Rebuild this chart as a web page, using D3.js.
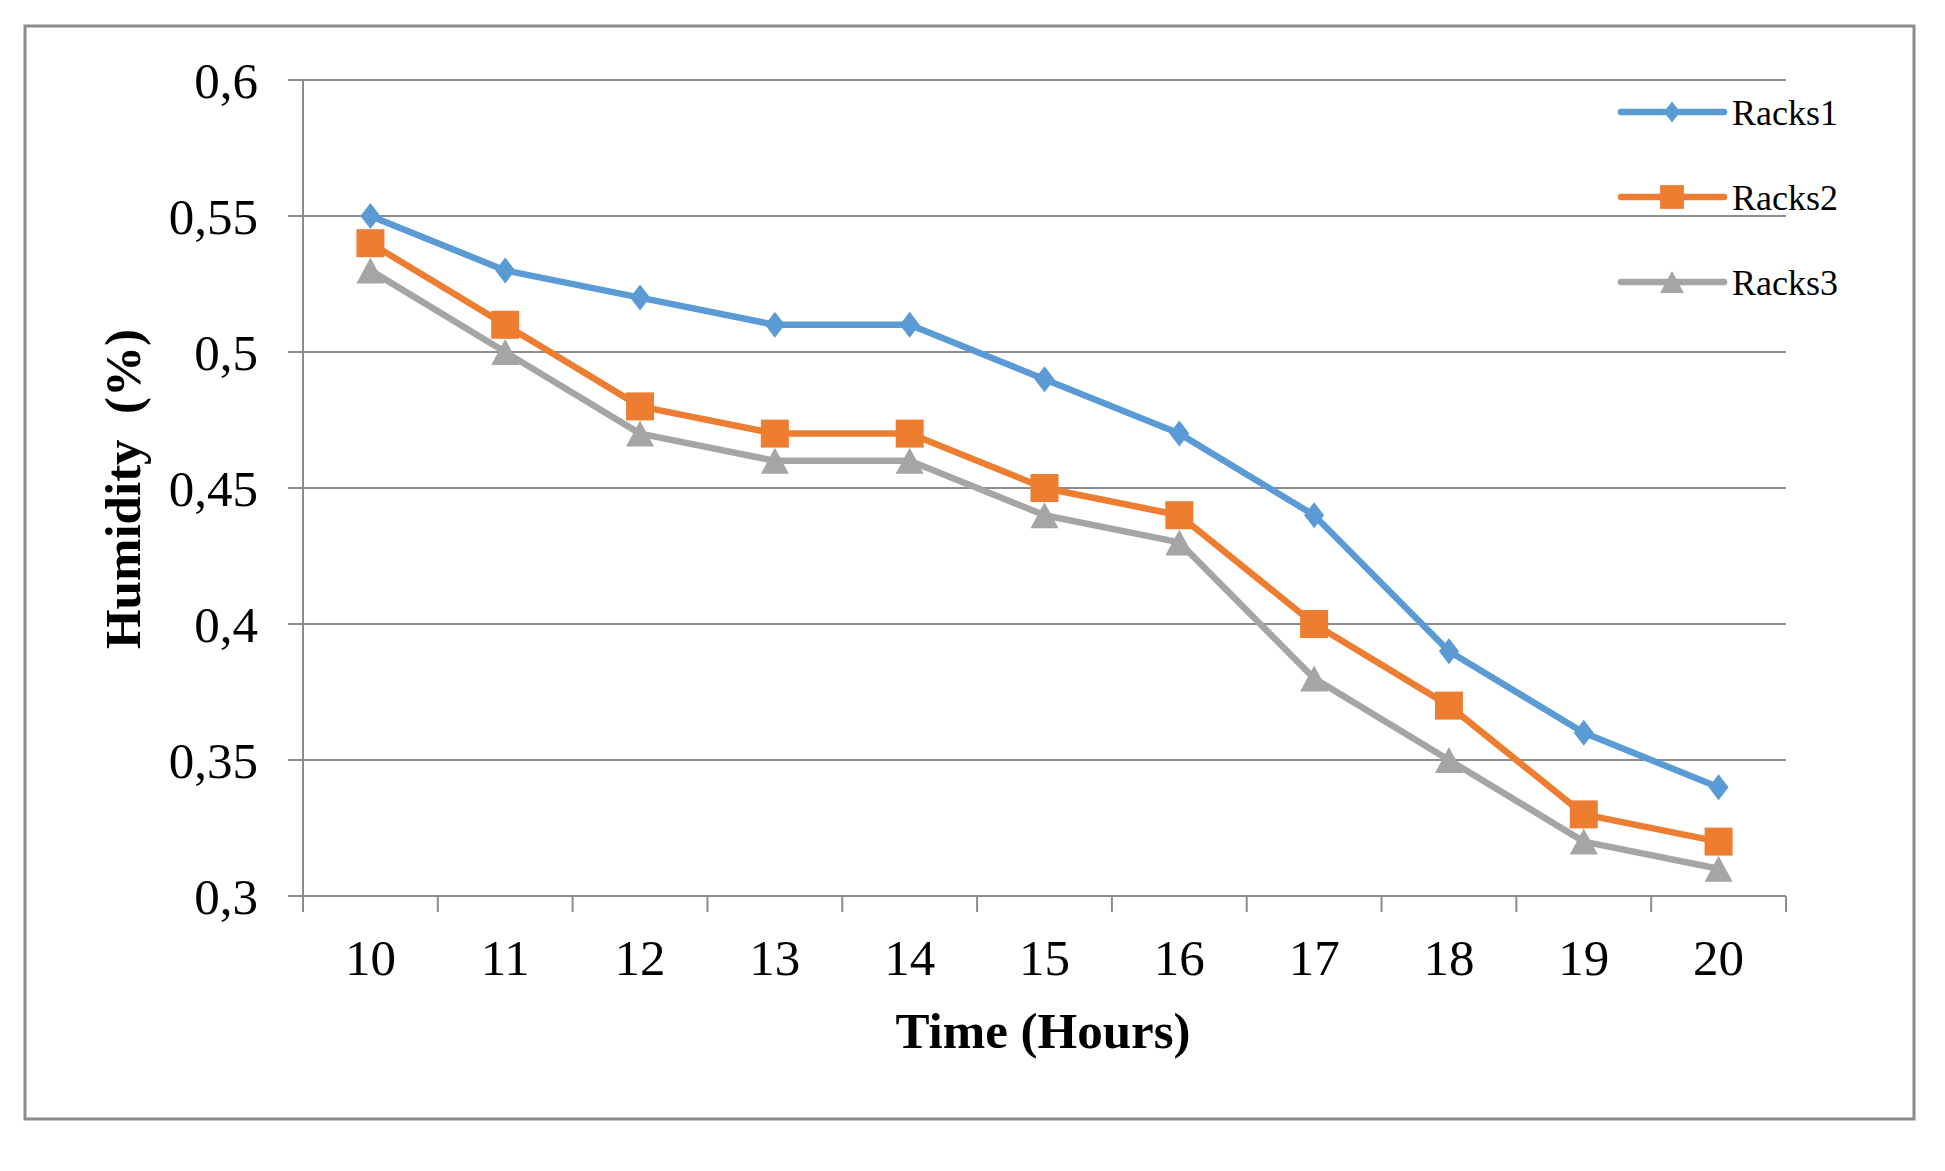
<!DOCTYPE html>
<html><head><meta charset="utf-8">
<script src="https://cdn.jsdelivr.net/npm/d3@7"></script>
<style>body{margin:0;background:#fff}svg{display:block}</style>
</head><body>
<script>
const hours = ["10","11","12","13","14","15","16","17","18","19","20"];
const racks1 = [0.55,0.53,0.52,0.51,0.51,0.49,0.47,0.44,0.39,0.36,0.34];
const racks2 = [0.54,0.51,0.48,0.47,0.47,0.45,0.44,0.40,0.37,0.33,0.32];
const racks3 = [0.53,0.50,0.47,0.46,0.46,0.44,0.43,0.38,0.35,0.32,0.31];
const seriesNames = ["Racks1","Racks2","Racks3"];
const yTicks = [0.3,0.35,0.4,0.45,0.5,0.55,0.6];

const W=1945,H=1171;
const svg=d3.select("body").append("svg").attr("width",W).attr("height",H);
const font="'Liberation Serif','Times New Roman',serif";
svg.append("rect").attr("x",25).attr("y",26).attr("width",1889).attr("height",1093)
  .attr("fill","#fff").attr("stroke","#8c8c8c").attr("stroke-width",3);

const L=303,R=1786,T=80,B=896;
const x=d3.scaleBand().domain(hours).range([L,R]);
const y=d3.scaleLinear().domain([0.3,0.6]).range([B,T]);
const cx=h=>x(h)+x.bandwidth()/2;

// gridlines
svg.append("g").selectAll("line").data(yTicks).join("line")
  .attr("x1",L-15).attr("x2",R).attr("y1",d=>y(d)).attr("y2",d=>y(d))
  .attr("stroke","#8c8c8c").attr("stroke-width",2);
svg.append("line").attr("x1",L).attr("x2",L).attr("y1",T).attr("y2",B+16).attr("stroke","#8c8c8c").attr("stroke-width",2);
const bounds=hours.map(h=>x(h)).concat([R]);
svg.append("g").selectAll("line").data(bounds).join("line")
  .attr("x1",d=>d).attr("x2",d=>d).attr("y1",B).attr("y2",B+16)
  .attr("stroke","#8c8c8c").attr("stroke-width",2);

svg.append("g").selectAll("text").data(yTicks).join("text")
  .attr("x",258).attr("y",d=>y(d)).attr("dy","0.35em").attr("text-anchor","end")
  .attr("font-family",font).attr("font-size",51)
  .text(d=>String(d).replace(".",","));
svg.append("g").selectAll("text").data(hours).join("text")
  .attr("x",d=>cx(d)).attr("y",975).attr("text-anchor","middle")
  .attr("font-family",font).attr("font-size",51).text(d=>d);

svg.append("text").attr("x",1043).attr("y",1048).attr("text-anchor","middle")
  .attr("font-family",font).attr("font-size",51).attr("font-weight","bold").text("Time (Hours)");
svg.append("text").attr("transform","translate(140,489) rotate(-90)").attr("text-anchor","middle")
  .attr("font-family",font).attr("font-size",51).attr("font-weight","bold")
  .style("white-space","pre").text("Humidity  (%)");

const colors=["#5B9BD5","#ED7D31","#A5A5A5"];
const data=[racks1,racks2,racks3];
function marker(k,s){
  if(k===0){const w=10*s,h=13*s;return `M0,${-h}L${w},0L0,${h}L${-w},0Z`;}
  if(k===1){const a=14*s;return `M${-a},${-a}H${a}V${a}H${-a}Z`;}
  const w=14*s,h=13*s;return `M0,${-h}L${w},${h}L${-w},${h}Z`;
}
const line=d3.line().x((d,i)=>cx(hours[i])).y(d=>y(d));

[2,1,0].forEach(k=>{
  svg.append("path").datum(data[k]).attr("d",line).attr("fill","none")
    .attr("stroke",colors[k]).attr("stroke-width",6.5).attr("stroke-linejoin","round");
  svg.append("g").selectAll("path").data(data[k]).join("path")
    .attr("transform",(d,i)=>`translate(${cx(hours[i])},${y(d)})`)
    .attr("d",marker(k,1)).attr("fill",colors[k]);
});

const ly=[112,197,282];
seriesNames.forEach((n,k)=>{
  const g=svg.append("g");
  g.append("line").attr("x1",1621).attr("x2",1724).attr("y1",ly[k]).attr("y2",ly[k])
    .attr("stroke",colors[k]).attr("stroke-width",6.5).attr("stroke-linecap","round");
  g.append("path").attr("transform",`translate(1672,${ly[k]})`)
    .attr("d",marker(k,k===0?0.8:0.85)).attr("fill",colors[k]);
  g.append("text").attr("x",1732).attr("y",ly[k]).attr("dy","0.35em")
    .attr("font-family",font).attr("font-size",36).text(n);
});
</script>
</body></html>
